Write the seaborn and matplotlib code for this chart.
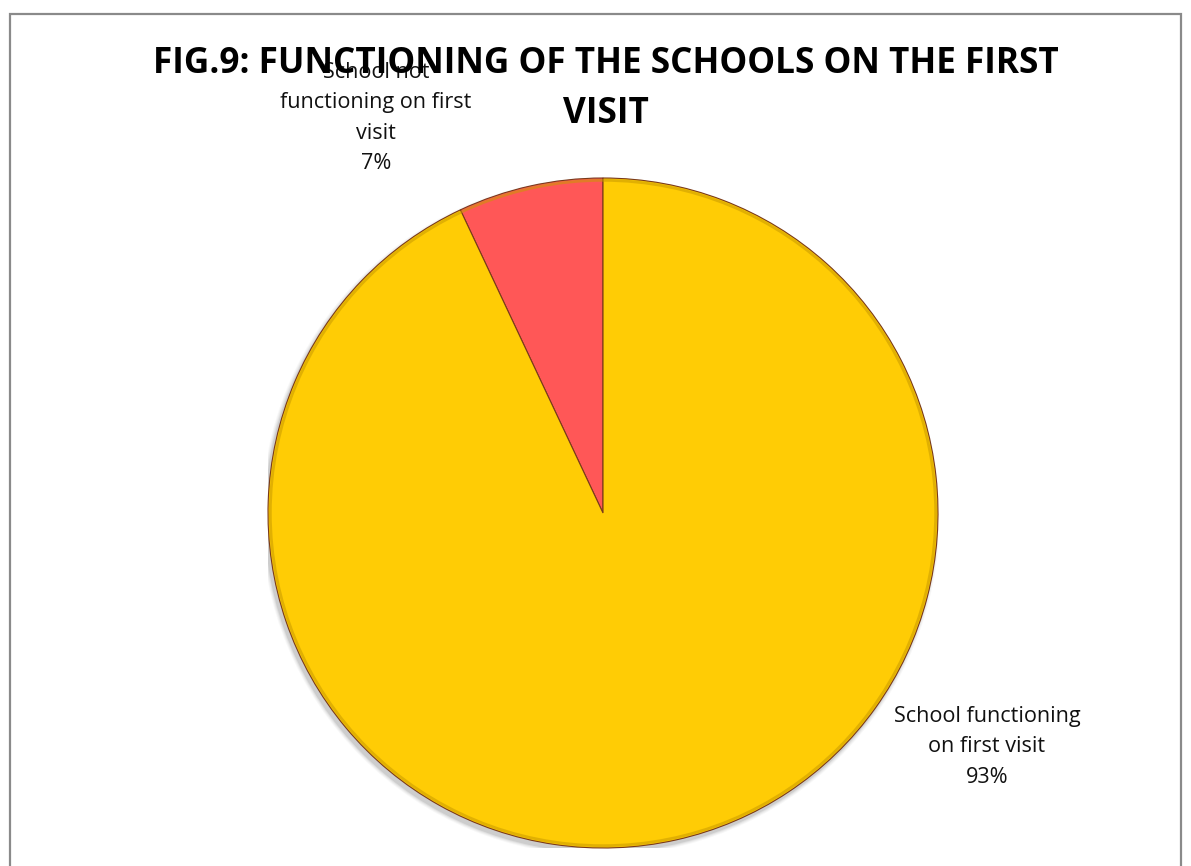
import matplotlib
matplotlib.use("Agg")
import matplotlib.pyplot as plt
import matplotlib.patches as mpatches
import seaborn as sns

# Survey result: school status on the first visit
categories = ["School not\nfunctioning on first\nvisit", "School functioning\non first visit"]
shares = [7, 93]
colors = ["#FF5757", "#FFCC05"]
title = "FIG.9: FUNCTIONING OF THE SCHOOLS ON THE FIRST\nVISIT"

sns.set_theme(style="white")
plt.rcParams["font.family"] = ["Open Sans", "DejaVu Sans"]

W, H = 1191, 866
fig = plt.figure(figsize=(W / 100, H / 100), dpi=100)
fig.patch.set_facecolor("white")

# outer chart frame
frame = mpatches.Rectangle((9.5 / W, -0.05), (1180.5 - 9.5) / W, (H - 13.5) / H + 0.05,
                           transform=fig.transFigure, fill=False,
                           edgecolor="#8a8a8a", linewidth=1.6)
fig.patches.append(frame)

cx, cy, r = 603, 513, 335
ax = fig.add_axes([(cx - r) / W, (H - cy - r) / H, 2 * r / W, 2 * r / H])

# soft drop shadow behind the pie
for i, a in enumerate([0.05, 0.07, 0.10, 0.16]):
    sh = mpatches.Circle((-0.007, -0.011), 1.0 + 0.012 - i * 0.003,
                         facecolor="#6f6f6f", edgecolor="none", alpha=a, zorder=0)
    ax.add_patch(sh)

wedges, _ = ax.pie(shares, colors=colors, startangle=90, counterclock=True,
                   radius=1.0, center=(0, 0), frame=True,
                   wedgeprops=dict(edgecolor="#7a3a1a", linewidth=0.8))
for w in wedges:
    w.set_zorder(2)
ax.set_xlim(-1, 1)
ax.set_ylim(-1, 1)
ax.set_aspect("equal")
ax.axis("off")

# darker rim for a bevelled look
rim = mpatches.Circle((0, 0), 0.993, fill=False, edgecolor="#c99a00",
                      linewidth=2.0, alpha=0.55, zorder=3)
ax.add_patch(rim)

labels = [f"{c}\n{v}%" for c, v in zip(categories, shares)]
label_pos = [(376, 118), (987, 747)]
for txt, (x, y) in zip(labels, label_pos):
    fig.text(x / W, 1 - y / H, txt, ha="center", va="center",
             fontsize=15.6, color="#111111", linespacing=1.58)

fig.text(606 / W, 1 - 89 / H, title, ha="center", va="center",
         fontsize=25.3, fontweight="bold", color="black", linespacing=1.5)

fig.savefig("out.png", dpi=100, facecolor="white")
